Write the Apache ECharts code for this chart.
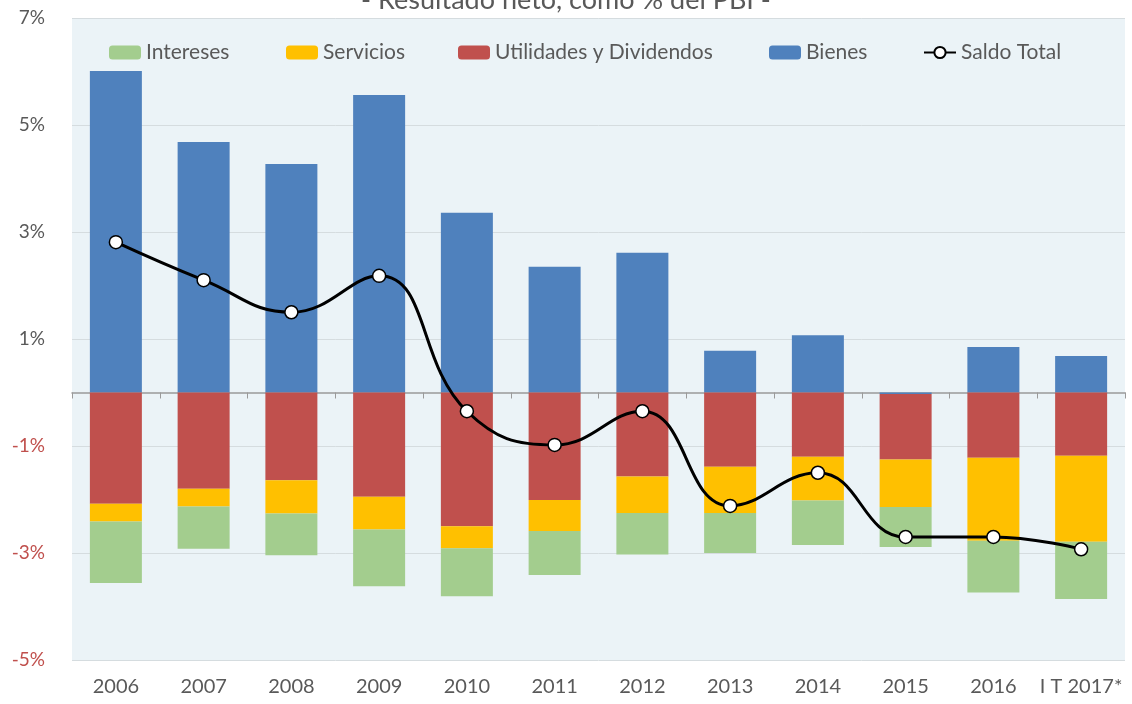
<!DOCTYPE html>
<html>
<head>
<meta charset="utf-8">
<script src="https://cdn.jsdelivr.net/npm/echarts@6/dist/echarts.min.js"></script>
<style>
  html, body { margin: 0; padding: 0; background: #fff; }
  #chart { width: 1132px; height: 704px; }
</style>
</head>
<body>
<div id="chart"></div>
<script>
// Cuenta corriente - resultado neto, % del PBI
const categories = ['2006', '2007', '2008', '2009', '2010', '2011', '2012', '2013', '2014', '2015', '2016', 'I T 2017*'];

const bienes      = [6.01, 4.68, 4.27, 5.56, 3.36, 2.35, 2.61, 0.78, 1.07, -0.03, 0.85, 0.68];
const utilidades  = [-2.08, -1.80, -1.64, -1.95, -2.50, -2.01, -1.57, -1.39, -1.20, -1.22, -1.22, -1.18];
const servicios   = [-0.33, -0.33, -0.62, -0.61, -0.41, -0.58, -0.68, -0.86, -0.82, -0.89, -1.55, -1.61];
const intereses   = [-1.15, -0.79, -0.78, -1.06, -0.90, -0.82, -0.78, -0.75, -0.83, -0.75, -0.97, -1.07];
const saldoTotal  = [2.81, 2.10, 1.50, 2.18, -0.35, -0.98, -0.35, -2.12, -1.50, -2.70, -2.70, -2.93];

const FONT = 'Lato, "Open Sans", sans-serif';
const GRAY = '#595959';

const colors = {
    Intereses: '#A3CD8E',
    Servicios: '#FFC000',
    'Utilidades y Dividendos': '#C0504D',
    Bienes: '#4F81BD'
};

// one legend per item so each sits where Excel put it
function legendAt(name, left) {
    return {
        data: [name],
        left: left,
        top: 37,
        itemWidth: 32,
        itemHeight: 14,
        itemGap: 4,
        textStyle: { fontFamily: FONT, fontSize: 21, color: GRAY },
        selectedMode: false
    };
}

const chart = echarts.init(document.getElementById('chart'));

chart.setOption({
    animation: false,
    title: {
        text: '- Resultado neto, como % del PBI -',
        left: 'center',
        top: -18,
        textStyle: { fontFamily: FONT, fontSize: 27, fontWeight: 'normal', color: GRAY }
    },
    legend: [
        legendAt('Intereses', 104),
        legendAt('Servicios', 281),
        legendAt('Utilidades y Dividendos', 453),
        legendAt('Bienes', 764),
        legendAt('Saldo Total', 918)
    ],
    grid: {
        left: 72, right: 7, top: 18, bottom: 44,
        show: true,
        backgroundColor: '#EBF3F7',
        borderWidth: 0
    },
    xAxis: [
        {
            type: 'category',
            data: categories,
            position: 'bottom',
            axisLine: { show: false, onZero: false },
            axisTick: { show: false },
            axisLabel: { interval: 0, fontFamily: FONT, fontSize: 20, color: GRAY, margin: 17 }
        },
        {
            type: 'category',
            data: categories,
            position: 'top',
            axisLine: { show: true, onZero: true, lineStyle: { color: '#9A9A9A', width: 1.5 } },
            axisTick: { show: true, inside: true, interval: 0, length: 6, lineStyle: { color: '#9A9A9A' } },
            axisLabel: { show: false }
        }
    ],
    yAxis: {
        type: 'value',
        min: -5,
        max: 7,
        interval: 2,
        axisLine: { show: false },
        axisTick: { show: false },
        splitLine: { lineStyle: { color: '#D5DCDF', width: 1 } },
        axisLabel: {
            fontFamily: FONT,
            fontSize: 19,
            margin: 27,
            formatter: v => v + '%',
            color: v => (v < 0 ? '#C0504D' : GRAY)
        }
    },
    series: [
        {
            name: 'Bienes', type: 'bar', stack: 'cc', barWidth: 52,
            itemStyle: { color: colors.Bienes }, data: bienes
        },
        {
            name: 'Utilidades y Dividendos', type: 'bar', stack: 'cc', barWidth: 52,
            itemStyle: { color: colors['Utilidades y Dividendos'] }, data: utilidades
        },
        {
            name: 'Servicios', type: 'bar', stack: 'cc', barWidth: 52,
            itemStyle: { color: colors.Servicios }, data: servicios
        },
        {
            name: 'Intereses', type: 'bar', stack: 'cc', barWidth: 52,
            itemStyle: { color: colors.Intereses }, data: intereses
        },
        {
            name: 'Saldo Total', type: 'line', smooth: 0.45,
            symbol: 'circle', symbolSize: 13,
            lineStyle: { color: '#000', width: 3 },
            itemStyle: { color: '#fff', borderColor: '#000', borderWidth: 1.5 },
            data: saldoTotal,
            z: 5
        }
    ]
});
</script>
</body>
</html>
